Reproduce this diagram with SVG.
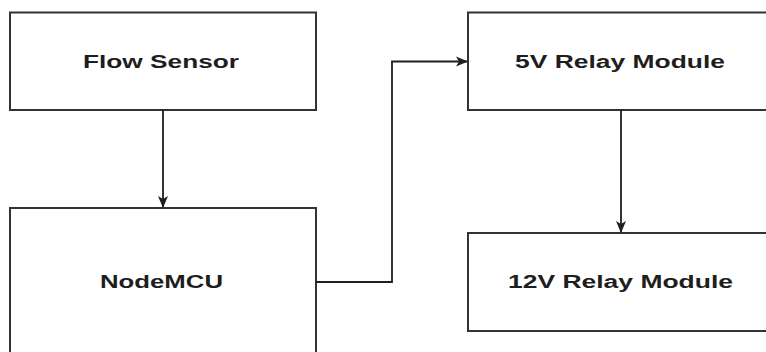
<svg xmlns="http://www.w3.org/2000/svg" width="766" height="352" viewBox="0 0 766 352">
<style>
.box{fill:#fff;stroke:#333;stroke-width:2}
.lbl{font-family:"Liberation Sans",Arial,sans-serif;font-weight:bold;font-size:18px;fill:#1e1e1e;text-anchor:middle}
.edge{fill:none;stroke:#1e1e1e;stroke-width:1.8}
</style>
<defs>
<marker id="ah" markerWidth="12" markerHeight="12" refX="11" refY="6" orient="auto" markerUnits="userSpaceOnUse">
<path d="M0,1 L12,6 L0,11 L3,6 Z" fill="#1e1e1e"/>
</marker>
</defs>
<rect width="766" height="352" fill="#fff"/>
<g id="flow-sensor">
<rect class="box" x="10" y="12.5" width="306" height="97.5"/>
<text class="lbl" x="161" y="68" textLength="156" lengthAdjust="spacingAndGlyphs">Flow Sensor</text>
</g>
<g id="nodemcu">
<rect class="box" x="10" y="208" width="306" height="160"/>
<text class="lbl" x="161.5" y="288" textLength="123" lengthAdjust="spacingAndGlyphs">NodeMCU</text>
</g>
<g id="relay5v">
<rect class="box" x="468" y="12.5" width="310" height="97.5"/>
<text class="lbl" x="620" y="68" textLength="210" lengthAdjust="spacingAndGlyphs">5V Relay Module</text>
</g>
<g id="relay12v">
<rect class="box" x="468" y="233" width="310" height="98"/>
<text class="lbl" x="620.5" y="288" textLength="225" lengthAdjust="spacingAndGlyphs">12V Relay Module</text>
</g>
<g id="connectors">
<path class="edge" d="M163,110 L163,207" marker-end="url(#ah)"/>
<path class="edge" d="M316,282 L392,282 L392,61.5 L467,61.5" marker-end="url(#ah)"/>
<path class="edge" d="M621,110 L621,232" marker-end="url(#ah)"/>
</g>
</svg>
